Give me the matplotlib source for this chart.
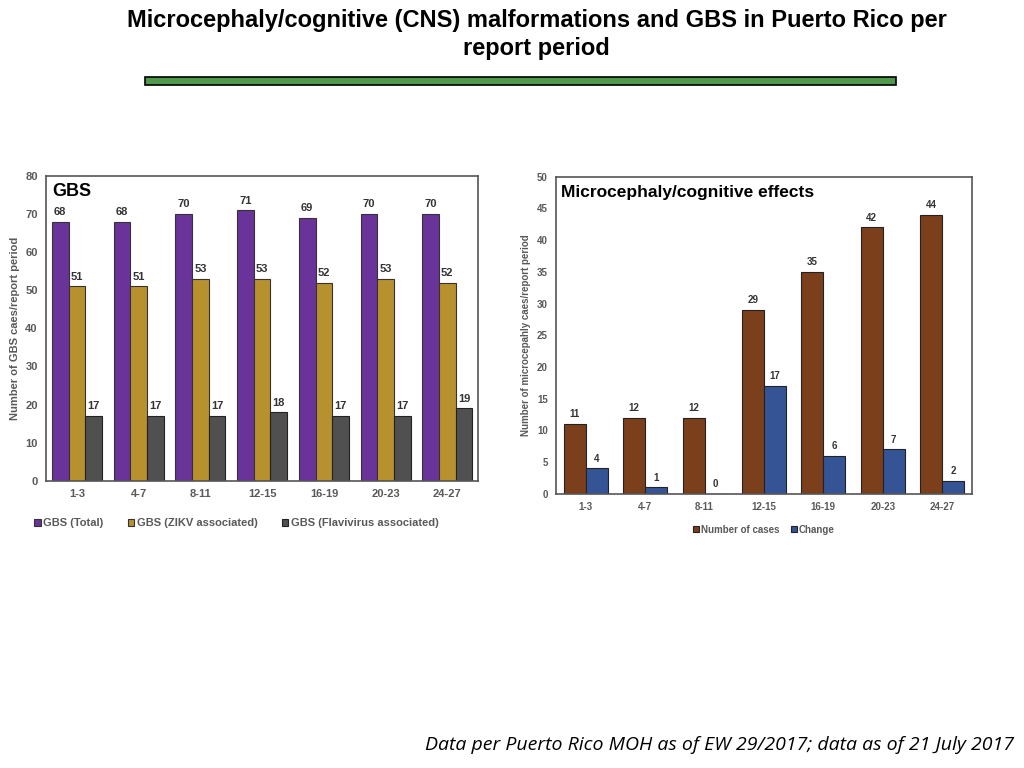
import matplotlib.pyplot as plt
import numpy as np
from matplotlib.patches import Rectangle

periods = ["1-3", "4-7", "8-11", "12-15", "16-19", "20-23", "24-27"]
gbs_total = [68, 68, 70, 71, 69, 70, 70]
gbs_zikv = [51, 51, 53, 53, 52, 53, 52]
gbs_flavi = [17, 17, 17, 18, 17, 17, 19]
micro_cases = [11, 12, 12, 29, 35, 42, 44]
micro_change = [4, 1, 0, 17, 6, 7, 2]

plt.rcParams['font.family'] = ['Liberation Sans', 'DejaVu Sans']
fig = plt.figure(figsize=(10.24, 7.68), dpi=100)

fig.text(0.524, 0.988, "Microcephaly/cognitive (CNS) malformations and GBS in Puerto Rico per\nreport period",
         ha='center', va='top', fontsize=17, fontweight='bold', linespacing=1.25)
fig.add_artist(Rectangle((145/1024, 1 - 85/768), 751/1024, 8/768, transform=fig.transFigure,
                         facecolor='#4f9a4a', edgecolor='black', lw=1.2))
fig.text(0.99, 0.03, "Data per Puerto Rico MOH as of EW 29/2017; data as of 21 July 2017",
         ha='right', va='center', fontsize=14, style='italic', family=['Open Sans', 'DejaVu Sans'])

grey = '#595959'


def style(ax, ymax, step, ylabel):
    ax.set_ylim(0, ymax)
    ax.set_yticks(np.arange(0, ymax + 1, step))
    ax.set_xlim(-0.5, len(periods) - 0.5)
    ax.set_xticks(range(len(periods)))
    ax.set_xticklabels(periods)
    ax.tick_params(length=0, labelsize=8, colors=grey, pad=6)
    for t in ax.get_xticklabels() + ax.get_yticklabels():
        t.set_fontweight('bold')
    for s in ax.spines.values():
        s.set_color('#555555')
        s.set_linewidth(1.2)
    ax.set_ylabel(ylabel, fontsize=8, color=grey, fontweight='bold', labelpad=4)


def label_bars(ax, bars, vals):
    for b, v in zip(bars, vals):
        ax.text(b.get_x() + b.get_width() / 2, v + 1.2 * ax.get_ylim()[1] / 80, str(v),
                ha='center', va='bottom', fontsize=8, fontweight='bold', color='#333333')


# GBS chart
ax1 = fig.add_axes([0.045, 0.374, 0.422, 0.397])
x = np.arange(len(periods))
w = 0.27
b1 = ax1.bar(x - w, gbs_total, w, color='#6a3399', edgecolor='#333333', lw=0.8, label='GBS (Total)')
b2 = ax1.bar(x, gbs_zikv, w, color='#b8912f', edgecolor='#333333', lw=0.8, label='GBS (ZIKV associated)')
b3 = ax1.bar(x + w, gbs_flavi, w, color='#505050', edgecolor='#222222', lw=0.8, label='GBS (Flavivirus associated)')
style(ax1, 80, 10, "Number of GBS caes/report period")
label_bars(ax1, b1, gbs_total)
label_bars(ax1, b2, gbs_zikv)
label_bars(ax1, b3, gbs_flavi)
ax1.text(0.015, 0.975, "GBS", transform=ax1.transAxes, ha='left', va='top', fontsize=13, fontweight='bold')
leg = ax1.legend(loc='upper center', bbox_to_anchor=(0.44, -0.09), ncol=3, frameon=False,
                 fontsize=8, handlelength=0.6, handleheight=0.6, handletextpad=0.2, columnspacing=2.2)
for t in leg.get_texts():
    t.set_color(grey)
    t.set_fontweight('bold')

# Microcephaly chart
ax2 = fig.add_axes([0.543, 0.357, 0.406, 0.413])
w2 = 0.37
c1 = ax2.bar(x - w2 / 2, micro_cases, w2, color='#7b3f1c', edgecolor='#222222', lw=0.8, label='Number of cases')
c2 = ax2.bar(x + w2 / 2, micro_change, w2, color='#345495', edgecolor='#222222', lw=0.8, label='Change')
style(ax2, 50, 5, "Number of microcepahly caes/report period")
ax2.tick_params(labelsize=7)
ax2.yaxis.label.set_fontsize(7)
label_bars(ax2, c1, micro_cases)
label_bars(ax2, c2, micro_change)
for t in ax2.texts:
    t.set_fontsize(7)
ax2.text(0.012, 0.975, "Microcephaly/cognitive effects", transform=ax2.transAxes, ha='left', va='top',
         fontsize=12.5, fontweight='bold')
leg2 = ax2.legend(loc='upper center', bbox_to_anchor=(0.5, -0.07), ncol=2, frameon=False,
                  fontsize=7, handlelength=0.6, handleheight=0.6, handletextpad=0.2, columnspacing=1.2)
for t in leg2.get_texts():
    t.set_color(grey)
    t.set_fontweight('bold')

fig.savefig("out.png", dpi=100)
